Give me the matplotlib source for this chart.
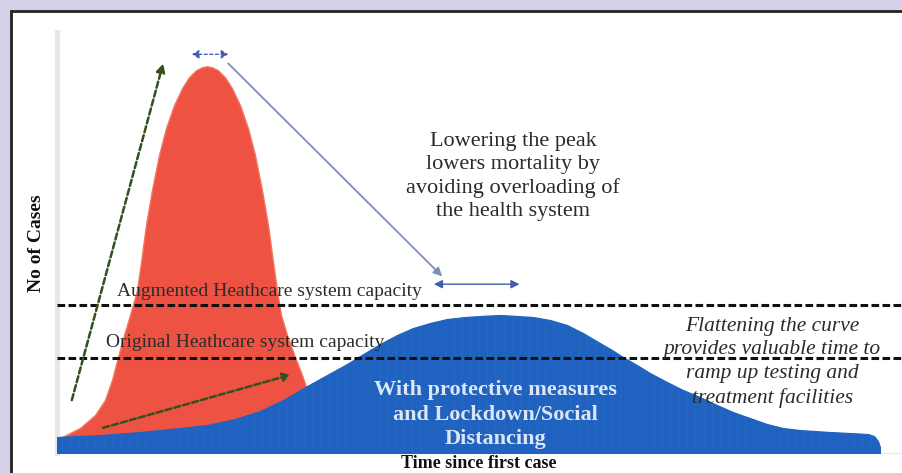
import matplotlib
matplotlib.use("Agg")
import matplotlib.pyplot as plt
from matplotlib.patches import Rectangle, FancyArrowPatch

# ---------------- data ----------------
# time since first case (0-100 scale) and number of cases (0-100 scale)
red_time = [0.00, 0.61, 2.79, 4.62, 5.83, 6.68, 7.41, 8.14, 8.87, 9.72, 10.21,
            10.81, 11.54, 12.39, 13.24, 14.22, 15.19, 16.04, 16.89, 17.62,
            18.23, 18.83, 19.56, 20.41, 21.26, 22.24, 23.21, 24.06, 24.91,
            25.64, 26.25, 26.73, 27.22, 27.95, 28.92, 29.77, 30.74, 31.96,
            33.41, 34.99]
red_cases = [3.63, 3.87, 6.05, 9.20, 12.83, 17.68, 23.25, 28.57, 33.41, 39.47,
             46.25, 55.21, 63.68, 72.16, 78.69, 84.26, 88.38, 91.04, 92.74,
             93.46, 93.70, 93.46, 92.74, 91.04, 88.38, 84.26, 78.69, 72.16,
             63.68, 55.21, 46.25, 39.47, 33.41, 28.57, 23.25, 18.89, 13.32,
             7.51, 2.66, 0.0]

blue_time = [0.00, 5.22, 10.09, 14.95, 18.23, 21.63, 24.67, 27.70, 30.38, 32.81,
             35.24, 37.42, 39.25, 41.31, 43.26, 45.32, 47.39, 49.57, 51.40,
             53.83, 55.89, 57.84, 59.90, 61.97, 63.91, 65.98, 67.44, 68.77,
             70.47, 72.05, 74.12, 76.06, 78.13, 80.19, 82.14, 84.20, 86.27,
             88.21, 90.28, 93.92, 96.35, 98.54, 99.27, 99.76, 100.0, 100.0]
blue_cases = [3.88, 4.36, 5.09, 6.06, 6.78, 8.24, 10.18, 13.08, 16.23, 18.90,
              21.57, 24.23, 26.41, 28.59, 30.29, 31.50, 32.47, 32.95, 33.20,
              33.44, 33.20, 32.95, 32.23, 31.02, 29.08, 26.65, 24.96, 23.26,
              21.32, 19.38, 17.20, 15.27, 13.57, 11.63, 9.93, 8.48, 7.03, 6.06,
              5.57, 5.09, 4.85, 4.60, 4.12, 2.91, 1.45, 0.0]

augmented_capacity = 35.8
original_capacity = 23.0

# annotation arrows: (start, end) in (time, cases)
rise_arrow = [(1.8, 12.8), (12.9, 94.4)]
slow_rise_arrow = [(5.6, 6.1), (28.3, 18.9)]
peak_shift_small = [(16.4, 96.6), (20.8, 96.6)]
peak_link = [(20.8, 94.4), (46.8, 42.8)]
peak_shift_large = [(45.8, 40.9), (56.2, 40.9)]

labels = {
    "augmented": "Augmented Heathcare system capacity",
    "original": "Original Heathcare system capacity",
    "lower": "Lowering the peak\nlowers mortality by\navoiding overloading of\nthe health system",
    "flatten": "Flattening the curve\nprovides valuable time to\nramp up testing and\ntreatment facilities",
    "protect": "With protective measures\nand Lockdown/Social\nDistancing",
    "xlabel": "Time since first case",
    "ylabel": "No of Cases",
}

# ---------------- figure ----------------
W, H = 903, 473
fig = plt.figure(figsize=(W / 100, H / 100), dpi=100, facecolor="#d5d0e6")
# white framed panel
fig.patches.append(Rectangle((11 / W, -0.05), 1.2, (H - 11) / H + 0.05,
                             transform=fig.transFigure, facecolor="white",
                             edgecolor="#222222", linewidth=2.0, zorder=-1))

ax = fig.add_axes([57 / W, 20 / H, (W - 57) / W, 421 / H])
ax.set_zorder(2)
ax.set_xlim(0, 102.8)
ax.set_ylim(0, 102)
ax.patch.set_alpha(0)
for s in ["top", "right"]:
    ax.spines[s].set_visible(False)
ax.spines["left"].set_color("#e6e6e6")
ax.spines["left"].set_linewidth(3.5)
ax.spines["bottom"].set_color("#ececec")
ax.spines["bottom"].set_linewidth(1.0)
ax.set_xticks([])
ax.set_yticks([])

serif = ["Liberation Serif", "DejaVu Serif"]

ax.fill_between(red_time, red_cases, 0, color="#ee5242", edgecolor="#f07a60",
                linewidth=1.0, zorder=2)
ax.fill_between(blue_time, blue_cases, 0, color="#1f62bf", edgecolor="#1f62bf",
                linewidth=0.8, zorder=3)
plt.rcParams["hatch.linewidth"] = 0.5
ax.fill_between(blue_time, blue_cases, 0, facecolor="none",
                edgecolor="#2a6ac6", hatch="||", linewidth=0, zorder=3.5)

for cap in (augmented_capacity, original_capacity):
    ax.axhline(cap, color="#111111", linewidth=2.2, linestyle=(0, (2.5, 1.1)),
               zorder=5)

text_col = "#2b2b2b"
# capacity labels
ax.text(25.8, augmented_capacity + 3.4, labels["augmented"], ha="center",
        va="center", fontsize=14, family=serif, color=text_col, zorder=6)
ax.text(22.9, original_capacity + 3.7, labels["original"], ha="center",
        va="center", fontsize=14, family=serif, color=text_col, zorder=6)

ax.text(55.4, 67.0, labels["lower"], ha="center", va="center", fontsize=16,
        family=serif, color=text_col, linespacing=1.3, zorder=6)
ax.text(86.9, 22.0, labels["flatten"], ha="center", va="center", fontsize=15.5,
        family=serif, style="italic", color=text_col, linespacing=1.33,
        zorder=6)
ax.text(53.3, 9.3, labels["protect"], ha="center", va="center", fontsize=16,
        family=serif, fontweight="bold", color="#dce6f6", linespacing=1.3,
        zorder=6)

ax.text(51.2, -2.6, labels["xlabel"], ha="center", va="center", fontsize=13,
        family=serif, fontweight="bold", color="#111111", clip_on=False)
ax.text(-2.5, 50.8, labels["ylabel"], ha="center", va="center", fontsize=14,
        family=serif, fontweight="bold", color="#111111", rotation=90,
        clip_on=False)

green = "#34501c"
ax.add_patch(FancyArrowPatch(rise_arrow[0], rise_arrow[1],
                             arrowstyle="-|>,head_length=5,head_width=2.5",
                             color=green, linewidth=1.8, linestyle=(0, (2.5, 1.2)),
                             zorder=7, shrinkA=0, shrinkB=0))
ax.add_patch(FancyArrowPatch(slow_rise_arrow[0], slow_rise_arrow[1],
                             arrowstyle="-|>,head_length=4,head_width=2.5",
                             color=green, linewidth=1.8, linestyle=(0, (2.5, 1.2)),
                             zorder=7, shrinkA=0, shrinkB=0))

blue_arrow = "#3d5fae"
ax.add_patch(FancyArrowPatch(peak_shift_small[0], peak_shift_small[1],
                             arrowstyle="<|-|>,head_length=4,head_width=2.5",
                             color=blue_arrow, linewidth=1.0,
                             linestyle=(0, (2, 2)), zorder=7, shrinkA=0, shrinkB=0))
ax.add_patch(FancyArrowPatch(peak_link[0], peak_link[1],
                             arrowstyle="-|>,head_length=5,head_width=2.5",
                             color="#7d8fb5", linewidth=1.3, zorder=7,
                             shrinkA=0, shrinkB=0))
ax.add_patch(FancyArrowPatch(peak_shift_large[0], peak_shift_large[1],
                             arrowstyle="<|-|>,head_length=5,head_width=2.5",
                             color=blue_arrow, linewidth=1.0, zorder=7,
                             shrinkA=0, shrinkB=0))

fig.savefig("out.png", dpi=100, facecolor=fig.get_facecolor())
